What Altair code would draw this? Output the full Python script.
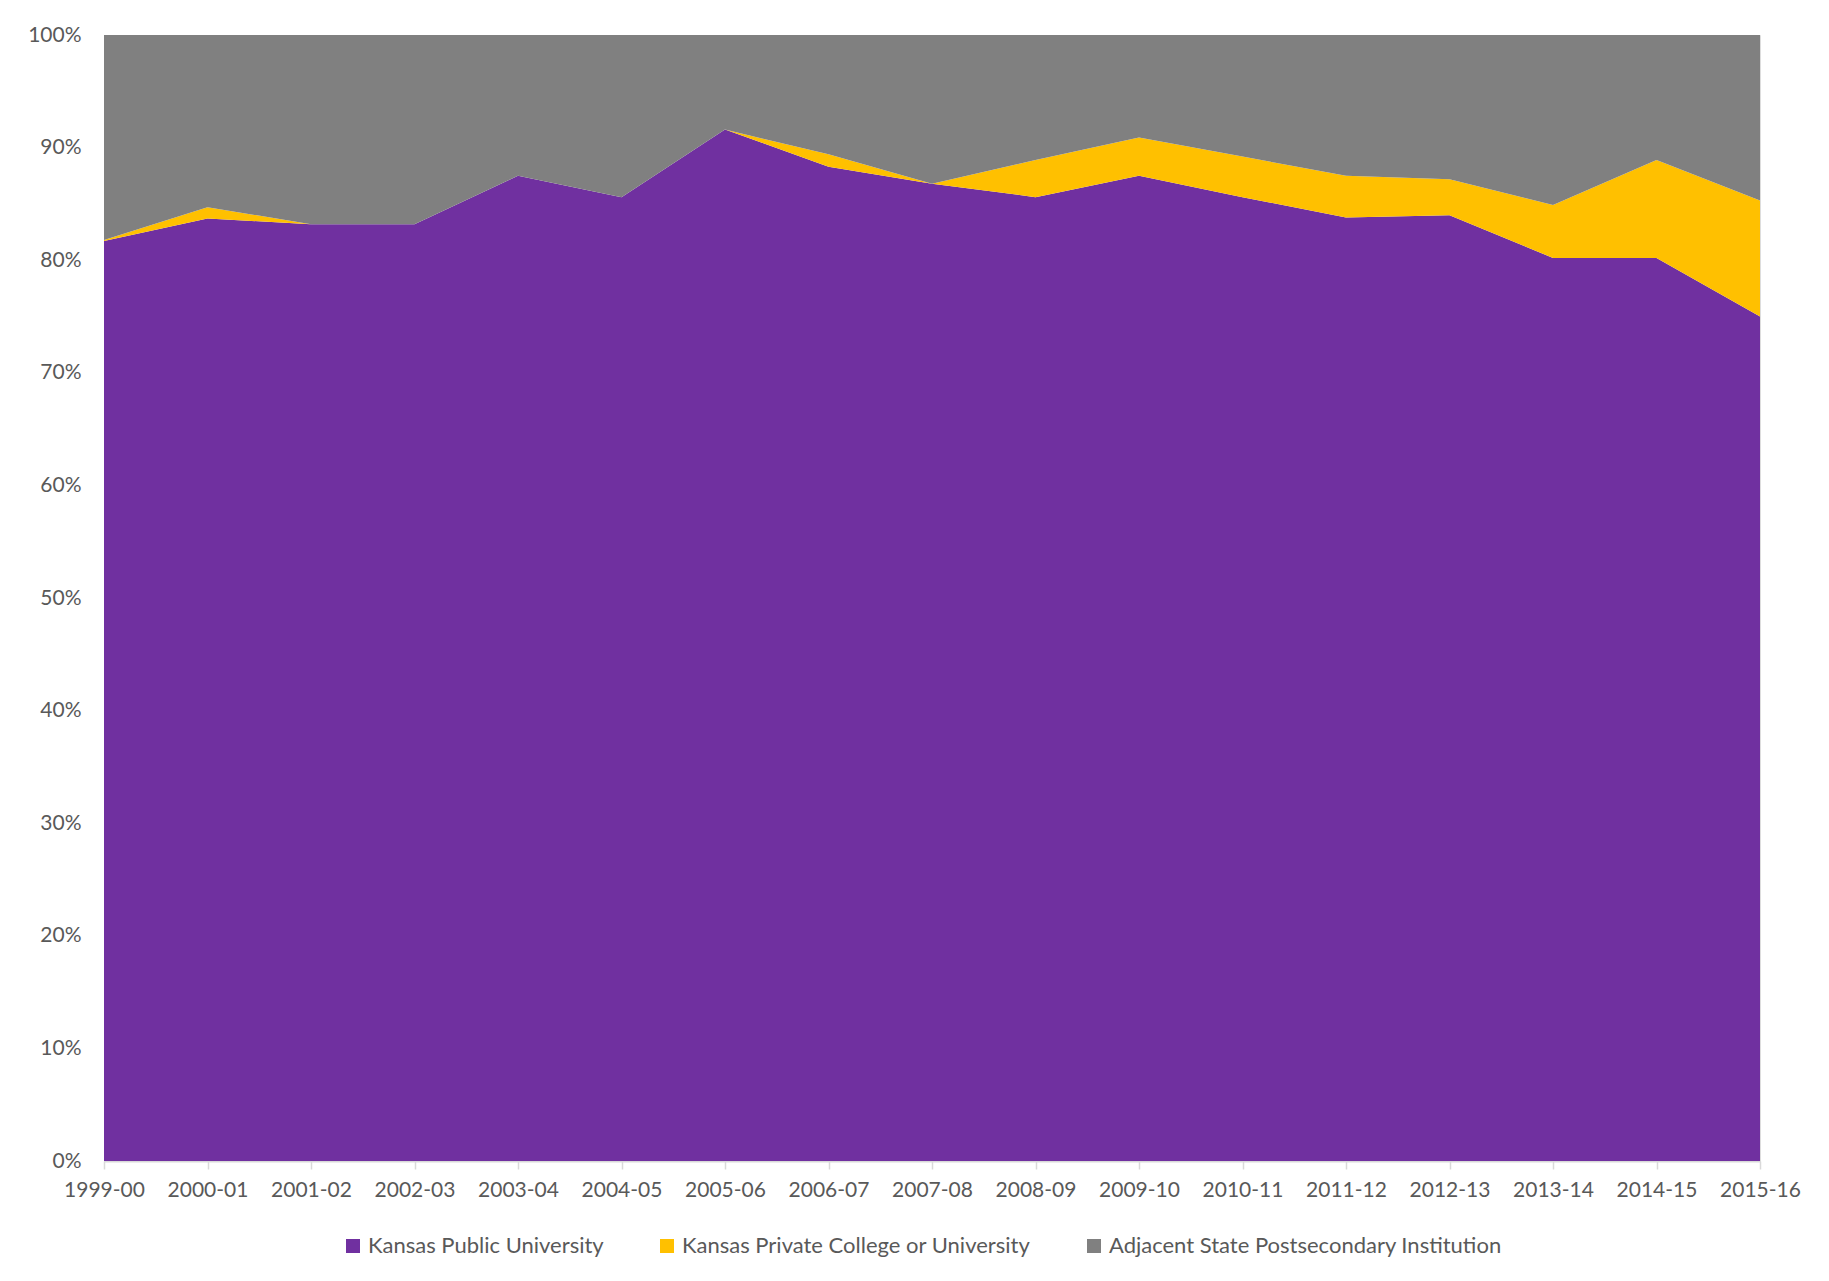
import altair as alt
import pandas as pd

years = ["1999-00", "2000-01", "2001-02", "2002-03", "2003-04", "2004-05",
         "2005-06", "2006-07", "2007-08", "2008-09", "2009-10", "2010-11",
         "2011-12", "2012-13", "2013-14", "2014-15", "2015-16"]

public_pct = [81.7, 83.7, 83.2, 83.2, 87.5, 85.6, 91.6, 88.3, 86.8, 85.6,
              87.5, 85.6, 83.8, 84.0, 80.2, 80.2, 75.0]
private_pct = [0.1, 1.0, 0.0, 0.0, 0.0, 0.0, 0.0, 1.1, 0.0, 3.3,
               3.4, 3.6, 3.7, 3.2, 4.7, 8.7, 10.3]
adjacent_pct = [18.2, 15.3, 16.8, 16.8, 12.5, 14.4, 8.4, 10.6, 13.2, 11.1,
                9.1, 10.8, 12.5, 12.8, 15.1, 11.1, 14.7]

series = ["Kansas Public University", "Kansas Private College or University",
          "Adjacent State Postsecondary Institution"]
colors = ["#7030A0", "#FFC000", "#808080"]

rows = []
for i, y in enumerate(years):
    for k, (name, vals) in enumerate(zip(series, [public_pct, private_pct, adjacent_pct])):
        rows.append({"year": y, "series": name, "idx": k, "value": vals[i] / 100.0})
df = pd.DataFrame(rows)

font = "Lato, 'Open Sans', sans-serif"
text_color = "#595959"

chart = alt.Chart(df).mark_area(interpolate="linear", opacity=1).encode(
    x=alt.X("year:O", sort=years,
            scale=alt.Scale(type="point", padding=0),
            axis=alt.Axis(title=None, labelAngle=0, labelFontSize=21, labelColor=text_color,
                          labelFont=font, domainColor="#d9d9d9", domainWidth=2,
                          tickColor="#d9d9d9", tickWidth=1.5, tickSize=8, labelPadding=10,
                          grid=False)),
    y=alt.Y("value:Q", stack="zero",
            scale=alt.Scale(domain=[0, 1], nice=False),
            axis=alt.Axis(title=None, format=".0%", values=[i / 10 for i in range(11)],
                          labelFontSize=21, labelColor=text_color, labelFont=font,
                          ticks=False, domain=False, grid=False, labelPadding=23)),
    color=alt.Color("series:N", sort=series,
                    scale=alt.Scale(domain=series, range=colors),
                    legend=alt.Legend(title=None, orient="none", direction="horizontal",
                                      legendX=238, legendY=1200,
                                      symbolType="square", symbolSize=196,
                                      symbolStrokeWidth=0, symbolOpacity=1,
                                      labelFontSize=22, labelColor=text_color,
                                      labelFont=font, columnPadding=52, labelOffset=4,
                                      labelLimit=600)),
    order=alt.Order("idx:Q", sort="ascending"),
).properties(
    width=1656,
    height=1126,
    autosize=alt.AutoSizeParams(type="none"),
    padding={"left": 104, "top": 35, "right": 69, "bottom": 120},
).configure_view(stroke=None).configure(background="white")

chart.save("out.html", embed_options={"renderer": "svg", "actions": False})
